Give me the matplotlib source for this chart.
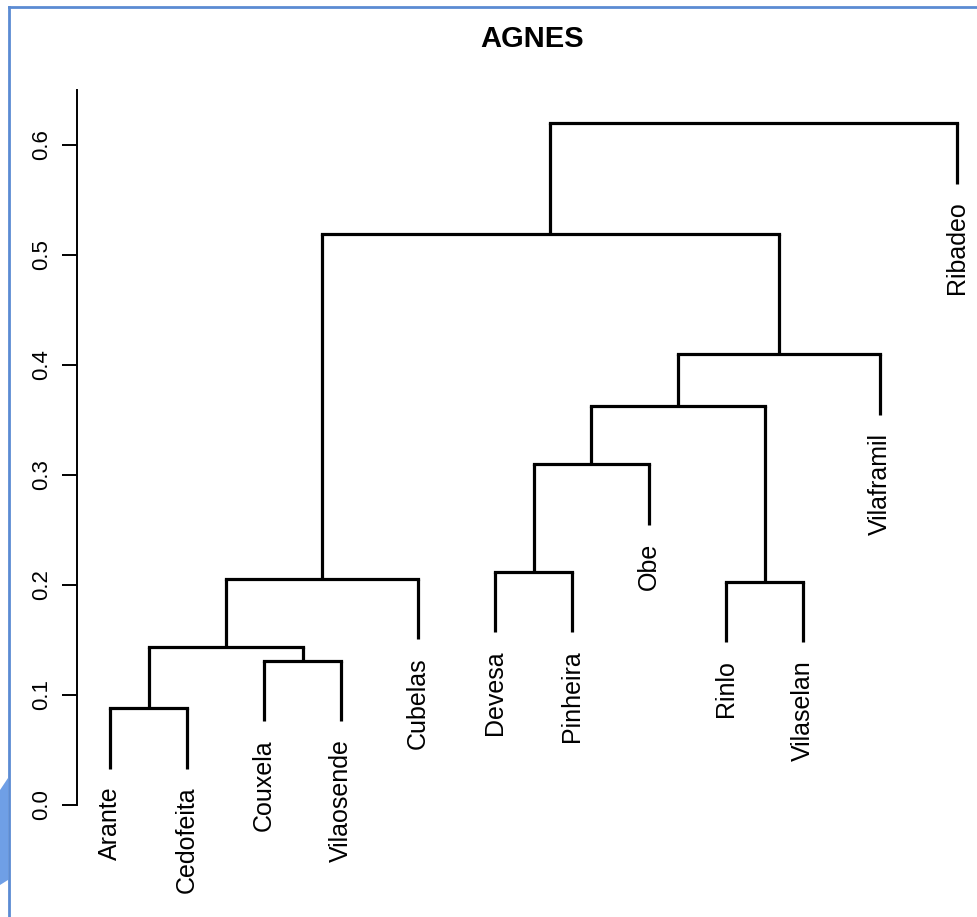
"""Dendrograma AGNES (aglomerativo) redesenhado com matplotlib."""

import matplotlib

matplotlib.use("Agg")
import matplotlib.pyplot as plt
from matplotlib.lines import Line2D
from matplotlib.patches import Polygon

plt.rcParams["font.family"] = ["Liberation Sans", "DejaVu Sans"]

# folhas na ordem do dendrograma
labels = [
    "Arante", "Cedofeita", "Couxela", "Vilaosende", "Cubelas", "Devesa",
    "Pinheira", "Obe", "Rinlo", "Vilaselan", "Vilaframil", "Ribadeo",
]
# fusões estilo R: negativo = folha (1-based), positivo = fusão anterior
merge_left = [-1, -3, 1, -9, 3, -6, 6, 7, 8, 5, 10]
merge_right = [-2, -4, 2, -10, -5, -7, -8, 4, -11, 9, -12]
merge_height = [0.088, 0.131, 0.1436, 0.203, 0.2055, 0.212, 0.310,
                0.3627, 0.410, 0.519, 0.620]
hang = 0.055

y_ticks = [0.0, 0.1, 0.2, 0.3, 0.4, 0.5, 0.6]


def main() -> None:
    fig = plt.figure(figsize=(9.77, 9.17), dpi=100)
    ax = fig.add_axes([0, 0, 1, 1])
    ax.set_xlim(1 - 110 / 77, 1 + 867 / 77)
    ax.set_ylim((805 - 917) / 1100, 805 / 1100)

    lw = 2.3
    pos = {}  # posição x e altura de cada nó
    for i, (a, b, h) in enumerate(zip(merge_left, merge_right, merge_height), start=1):
        ends = []
        for node in (a, b):
            if node < 0:
                x = -node
                y0 = h - hang
                ax.annotate(
                    labels[x - 1], xy=(x, y0), xytext=(0, -13),
                    textcoords="offset points", rotation=90,
                    ha="center", va="top", fontsize=18,
                )
            else:
                x, y0 = pos[node]
            ax.plot([x, x], [y0, h], color="black", lw=lw, solid_capstyle="butt")
            ends.append(x)
        ax.plot(ends, [h, h], color="black", lw=lw, solid_capstyle="projecting")
        pos[i] = ((ends[0] + ends[1]) / 2, h)

    for side in ("top", "right", "bottom"):
        ax.spines[side].set_visible(False)
    ax.spines["left"].set_position(("data", 1 - 33 / 77))
    ax.spines["left"].set_bounds(0, 0.65)
    ax.spines["left"].set_linewidth(1.4)
    ax.set_xticks([])
    ax.set_yticks(y_ticks)
    ax.set_yticklabels([f"{v:.1f}" for v in y_ticks], rotation=90, va="center",
                       fontsize=16)
    ax.tick_params(axis="y", length=11, width=1.4, pad=7)
    ax.patch.set_visible(False)

    fig.text(0.545, 0.958, "AGNES", ha="center", va="center",
             fontsize=21, fontweight="bold")

    # moldura azul da captura de ecrã
    blue = "#5b8bd3"
    fig.add_artist(Line2D([9 / 977, 9 / 977], [0, 1 - 7 / 917], color=blue, lw=2))
    fig.add_artist(Line2D([9 / 977, 1], [1 - 7 / 917, 1 - 7 / 917], color=blue, lw=2))
    blob = [(0, 1 - 885 / 917), (8 / 977, 1 - 880 / 917),
            (8 / 977, 1 - 778 / 917), (0, 1 - 790 / 917)]
    fig.add_artist(Polygon(blob, closed=True, transform=fig.transFigure,
                           color="#6f9fe6", lw=0))

    fig.savefig("out.png", dpi=100)
    plt.close(fig)


if __name__ == "__main__":
    main()
